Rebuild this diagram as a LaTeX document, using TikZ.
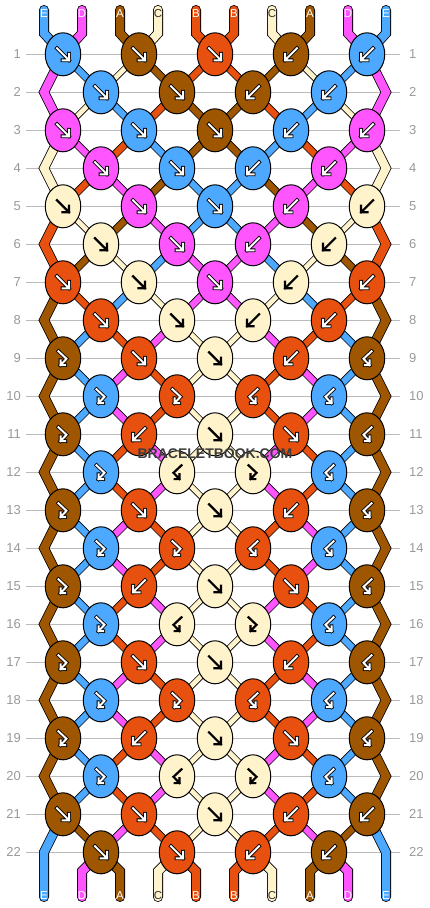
\documentclass[tikz,border=0pt]{standalone}
\usepackage{fontspec}
\setmainfont{Liberation Sans}
\usetikzlibrary{shapes.geometric}
\definecolor{sE}{HTML}{4DA9FF}
\definecolor{sD}{HTML}{FF55FF}
\definecolor{sA}{HTML}{9E5700}
\definecolor{sB}{HTML}{E8500F}
\definecolor{sC}{HTML}{FFF3CC}
\definecolor{tE}{HTML}{FFFFFF}
\definecolor{tD}{HTML}{FFFFFF}
\definecolor{tA}{HTML}{FFFFFF}
\definecolor{tB}{HTML}{FFFFFF}
\definecolor{tC}{HTML}{333333}
\definecolor{rowgray}{HTML}{BBBBBB}
\definecolor{numgray}{HTML}{999999}
\definecolor{wmark}{HTML}{3C3C3C}
\newcommand\knicon[3]{%
  \begin{scope}[shift={(#1.center)}]
  \ifcase#2 \or
    \path[ic#3] (-6,-6)--(6,6) (-0.5,6)--(6,6)--(6,-0.5);
  \or
    \path[ic#3] (6,-6)--(-6,6) (0.5,6)--(-6,6)--(-6,-0.5);
  \or
    \path[ic#3] (-4.5,-7)--(3.5,0.5)--(-2.5,6.8) (-2.5,2)--(-2.5,6.8)--(2.2,6.8);
  \or
    \path[ic#3] (4.5,-7)--(-3.5,0.5)--(2.5,6.8) (2.5,2)--(2.5,6.8)--(-2.2,6.8);
  \fi
  \end{scope}}
\def\strandstates{{E,D,A,C,B,B,C,A,D,E},{D,E,C,A,B,B,A,C,E,D},{D,C,E,B,A,A,B,E,C,D},{C,D,B,E,A,A,E,B,D,C},{C,B,D,A,E,E,A,D,B,C},{B,C,A,D,E,E,D,A,C,B},{B,A,C,E,D,D,E,C,A,B},{A,B,E,C,D,D,C,E,B,A},{A,E,B,D,C,C,D,B,E,A},{A,E,D,B,C,C,B,D,E,A},{A,E,D,B,C,C,B,D,E,A},{A,E,B,D,C,C,D,B,E,A},{A,E,B,D,C,C,D,B,E,A},{A,E,D,B,C,C,B,D,E,A},{A,E,D,B,C,C,B,D,E,A},{A,E,B,D,C,C,D,B,E,A},{A,E,B,D,C,C,D,B,E,A},{A,E,D,B,C,C,B,D,E,A},{A,E,D,B,C,C,B,D,E,A},{A,E,B,D,C,C,D,B,E,A},{A,E,B,D,C,C,D,B,E,A},{E,A,D,B,C,C,B,D,A,E},{E,D,A,C,B,B,C,A,D,E}}
\def\knotrows{{E/1,A/1,B/1,A/2,E/2},{E/1,A/1,A/2,E/2},{D/1,E/1,A/1,E/2,D/2},{D/1,E/1,E/2,D/2},{C/1,D/1,E/1,D/2,C/2},{C/1,D/1,D/2,C/2},{B/1,C/1,D/1,C/2,B/2},{B/1,C/1,C/2,B/2},{A/3,B/1,C/1,B/2,A/4},{E/3,B/3,B/4,E/4},{A/3,B/2,C/1,B/1,A/4},{E/3,C/4,C/3,E/4},{A/3,B/1,C/1,B/2,A/4},{E/3,B/3,B/4,E/4},{A/3,B/2,C/1,B/1,A/4},{E/3,C/4,C/3,E/4},{A/3,B/1,C/1,B/2,A/4},{E/3,B/3,B/4,E/4},{A/3,B/2,C/1,B/1,A/4},{E/3,C/4,C/3,E/4},{A/1,B/1,C/1,B/2,A/2},{A/1,B/1,B/2,A/2}}
\begin{document}
\begin{tikzpicture}[x=1pt,y=-1pt,
  knot/.style={ellipse, draw=black, line width=1pt, minimum width=35.5pt, minimum height=43pt, inner sep=0pt, outer sep=0pt},
  strand/.style={draw=black, line width=0.8pt, line join=miter, double distance=6.4pt},
  wide/.style={double distance=8.4pt, line cap=round},
  dE/.style={}, dD/.style={}, dA/.style={}, dB/.style={}, dC/.style={double distance=4.8pt},
  icE/.style={draw=black, line width=0.85pt, double=white, double distance=2pt, line cap=rect, line join=miter},
  icD/.style={icE}, icA/.style={icE}, icB/.style={icE},
  icC/.style={draw=black, line width=2.2pt, line cap=rect, line join=miter},
  numL/.style={anchor=east, inner sep=0pt, text=numgray, font=\fontsize{13pt}{13pt}\selectfont},
  numR/.style={numL, anchor=west},
  rowline/.style={draw=rowgray, line width=1pt},
  lbl/.style={inner sep=0pt, font=\fontsize{11.5pt}{11.5pt}\selectfont},
  wm/.style={text=wmark, font=\bfseries\fontsize{14pt}{14pt}\selectfont, inner sep=0pt}]
\useasboundingbox (0,0) rectangle (430,908);
% row lines and numbers
\foreach \r in {1,...,22}{
  \pgfmathsetmacro\yy{54.3+38*(\r-1)}
  \node[numL] (L-\r) at (21,\yy) {\r};
  \node[numR] (R-\r) at (409,\yy) {\r};
  \draw[rowline] ([xshift=5pt]L-\r.east) -- ([xshift=-9pt]R-\r.west);
}
% coordinates of strand positions
\foreach \i in {1,...,10}{
  \pgfmathsetmacro\xx{44+38*(\i-1)}
  \coordinate (p-0-\i) at (\xx,33.3);
  \coordinate (p-23-\i) at (\xx,871.3);
  \coordinate (top-\i) at (\xx,10);
  \coordinate (bot-\i) at (\xx,897);
}
\foreach \r in {1,...,22}{
  \pgfmathsetmacro\yy{54.3+38*(\r-1)}
  \ifodd\r\relax
    \foreach \i in {1,...,10}{
      \pgfmathsetmacro\xx{63+76*int((\i-1)/2)}
      \coordinate (p-\r-\i) at (\xx,\yy);
    }
  \else
    \foreach \i in {2,...,9}{
      \pgfmathsetmacro\xx{101+76*int((\i-2)/2)}
      \coordinate (p-\r-\i) at (\xx,\yy);
    }
    \coordinate (p-\r-1) at (44,\yy);
    \coordinate (p-\r-10) at (386,\yy);
  \fi
}
% strands
\foreach \row [count=\rc from 0] in \strandstates {
  \foreach \c [count=\i] in \row {
    \pgfmathtruncatemacro\ra{\rc+1}
    \pgfmathtruncatemacro\rb{\rc+2}
    \ifnum\i=1 \def\isedge{1}\else\ifnum\i=10 \def\isedge{1}\else\def\isedge{0}\fi\fi
    \ifnum\rc=0
      \draw[strand, double=s\c, wide] (top-\i) -- (p-0-\i) -- (p-1-\i);
    \else\ifnum\rc=22
      \ifnum\isedge=0
        \draw[strand, double=s\c, wide] (p-22-\i) -- (p-23-\i) -- (bot-\i);
      \fi
    \else
      \ifnum\isedge=1
        \ifodd\rc\relax
          \ifnum\rc=21
            \draw[strand, double=s\c, wide] (p-21-\i) -- (p-22-\i) -- (p-23-\i) -- (bot-\i);
          \else
            \draw[strand, double=s\c, wide] (p-\rc-\i) -- (p-\ra-\i) -- (p-\rb-\i);
          \fi
        \fi
      \else
        \draw[strand, double=s\c, d\c] (p-\rc-\i) -- (p-\ra-\i);
      \fi
    \fi\fi
  }
}
% knots
\foreach \row [count=\r] in \knotrows {
  \pgfmathsetmacro\yy{54.3+38*(\r-1)}
  \ifodd\r\relax \def\xo{63}\else\def\xo{101}\fi
  \foreach \c/\t [count=\j] in \row {
    \pgfmathsetmacro\xx{\xo+76*(\j-1)}
    \node[knot, fill=s\c] (k-\r-\j) at (\xx,\yy) {};
    \knicon{k-\r-\j}{\t}{\c}
  }
}
% strand end labels
\foreach \c [count=\i] in {E,D,A,C,B,B,C,A,D,E}{
  \pgfmathsetmacro\xx{44+38*(\i-1)}
  \node[lbl, text=t\c] (tl-\i) at (\xx,13.5) {\c};
  \node[lbl, text=t\c] (bl-\i) at (\xx,896) {\c};
}
\node[wm] (mark) at (215,453.5) {BRACELETBOOK.COM};
\end{tikzpicture}
\end{document}
